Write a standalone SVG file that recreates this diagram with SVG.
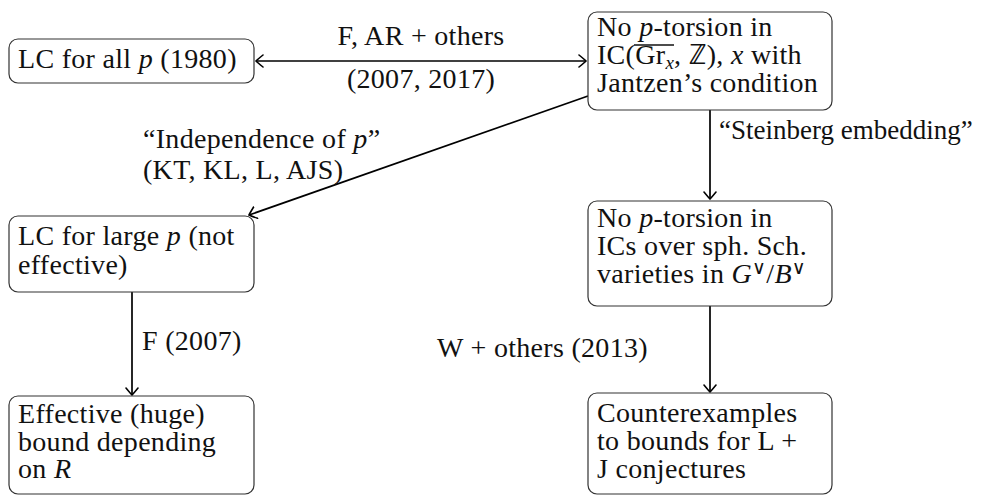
<svg xmlns="http://www.w3.org/2000/svg" width="983" height="495" viewBox="0 0 983 495" font-family="'Liberation Serif', 'DejaVu Serif', serif">
<style>
text{font-family:'Liberation Serif','Noto Serif','DejaVu Serif',serif;font-size:28px;letter-spacing:0.3px;fill:#111}
.box{fill:#fff;stroke:#333;stroke-width:1.2}
.edge{stroke:#000;stroke-width:1.7;fill:none}
.it{font-style:italic}
.sub{font-size:19px}
.mid{text-anchor:middle}
.narrow{font-size:27px;letter-spacing:0}
</style>
<defs>
<marker id="to" viewBox="-8 -7 10 14" markerWidth="10" markerHeight="14" refX="0" refY="0" orient="auto-start-reverse" markerUnits="userSpaceOnUse">
<path d="M-7,-6 Q-1.5,-1.5 0,0 Q-1.5,1.5 -7,6" fill="none" stroke="#000" stroke-width="1.6" stroke-linecap="round"/>
</marker>
</defs>
<g id="connectors">
<line class="edge" x1="256" y1="61" x2="586" y2="61" marker-start="url(#to)" marker-end="url(#to)"/>
<line class="edge" x1="588" y1="96" x2="249" y2="215" marker-end="url(#to)"/>
<line class="edge" x1="710" y1="110" x2="710" y2="199" marker-end="url(#to)"/>
<line class="edge" x1="132" y1="292" x2="132" y2="395" marker-end="url(#to)"/>
<line class="edge" x1="710" y1="306" x2="710" y2="392" marker-end="url(#to)"/>
<text class="mid" x="421" y="45">F, AR + others</text>
<text class="mid" x="421" y="88">(2007, 2017)</text>
<text x="143" y="148">“Independence of <tspan class="it">p</tspan>”</text>
<text x="143" y="179">(KT, KL, L, AJS)</text>
<text class="narrow" x="719" y="139">“Steinberg embedding”</text>
<text x="142" y="350">F (2007)</text>
<text x="437" y="357">W + others (2013)</text>
</g>
<g id="n1">
<rect class="box" x="9" y="39" width="245" height="44" rx="9"/>
<text x="18" y="68">LC for all <tspan class="it">p</tspan> (1980)</text>
</g>
<g id="n2">
<rect class="box" x="588" y="12" width="244" height="98" rx="9"/>
<text x="597" y="36">No <tspan class="it">p</tspan>-torsion in</text>
<text x="597" y="64">IC(Gr<tspan class="it sub" dy="5">x</tspan><tspan dy="-5">, ℤ), </tspan><tspan class="it">x</tspan> with</text>
<line x1="634" y1="45" x2="674" y2="45" stroke="#111" stroke-width="1.3"/>
<text x="597" y="92">Jantzen’s condition</text>
</g>
<g id="n3">
<rect class="box" x="9" y="216" width="245" height="76" rx="9"/>
<text x="18" y="245">LC for large <tspan class="it">p</tspan> (not</text>
<text x="18" y="274">effective)</text>
</g>
<g id="n4">
<rect class="box" x="588" y="201" width="244" height="105" rx="9"/>
<text x="597" y="227">No <tspan class="it">p</tspan>-torsion in</text>
<text x="597" y="255">ICs over sph. Sch.</text>
<text x="597" y="283">varieties in <tspan class="it">G</tspan><tspan class="sub" dy="-9">∨</tspan><tspan dy="9">/</tspan><tspan class="it">B</tspan><tspan class="sub" dy="-9">∨</tspan></text>
</g>
<g id="n5">
<rect class="box" x="9" y="396" width="245" height="98" rx="9"/>
<text x="18" y="423">Effective (huge)</text>
<text x="18" y="451">bound depending</text>
<text x="18" y="478">on <tspan class="it">R</tspan></text>
</g>
<g id="n6">
<rect class="box" x="588" y="393" width="244" height="101" rx="9"/>
<text x="597" y="422">Counterexamples</text>
<text x="597" y="450">to bounds for L +</text>
<text x="597" y="478">J conjectures</text>
</g>
</svg>
